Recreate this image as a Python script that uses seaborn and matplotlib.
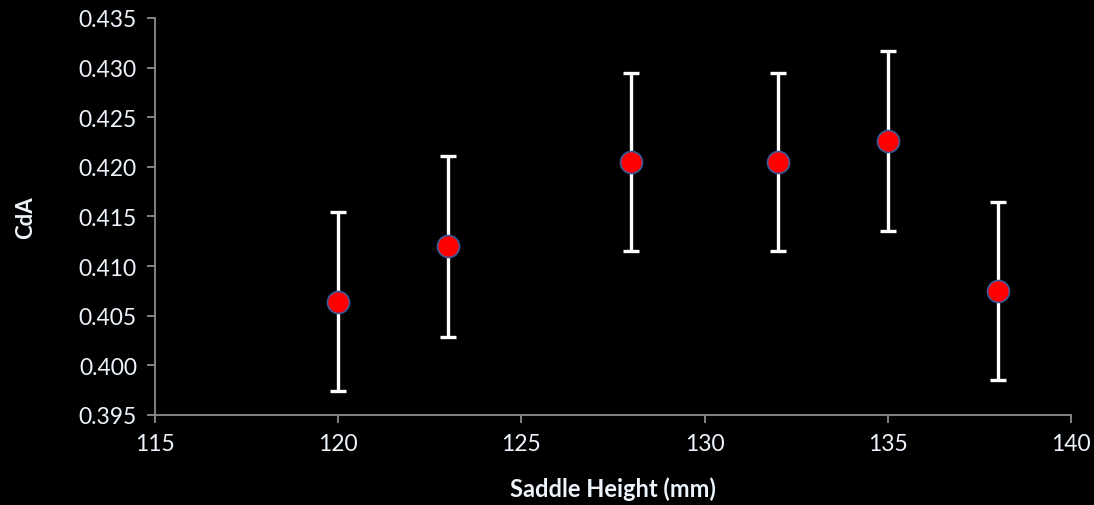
import matplotlib
matplotlib.use("Agg")
import matplotlib.pyplot as plt
import seaborn as sns
import pandas as pd
import numpy as np

saddle_height = [120, 123, 128, 132, 135, 138]
cda = [0.4064, 0.4120, 0.4205, 0.4205, 0.4226, 0.4075]
cda_err = [0.0090, 0.0091, 0.0090, 0.0090, 0.0091, 0.0090]
x_ticks = [115, 120, 125, 130, 135, 140]
y_ticks = [0.395, 0.400, 0.405, 0.410, 0.415, 0.420, 0.425, 0.430, 0.435]

df = pd.DataFrame({"Saddle Height (mm)": saddle_height, "CdA": cda, "err": cda_err})

sns.set_theme(style="ticks")
plt.rcParams['font.family'] = ['Lato', 'DejaVu Sans']
txt = "#eef4fb"

fig = plt.figure(figsize=(10.94, 5.06), dpi=100, facecolor="black")
ax = fig.add_axes([0.1417, 0.178, 0.979 - 0.1417, 0.9625 - 0.178])
ax.set_facecolor("black")

ax.errorbar(df["Saddle Height (mm)"], df["CdA"], yerr=df["err"], fmt="none",
            ecolor="white", elinewidth=2.4, capsize=6, capthick=2.4, zorder=2)
sns.scatterplot(data=df, x="Saddle Height (mm)", y="CdA", ax=ax, s=250,
                color="#ff0000", edgecolor="#3b5a9a", linewidth=1.2, zorder=3)

ax.set_xlim(115, 140)
ax.set_ylim(0.395, 0.435)
ax.set_xticks(x_ticks)
ax.set_yticks(y_ticks)
ax.set_xticklabels([str(t) for t in x_ticks])
ax.set_yticklabels([f"{t:.3f}" for t in y_ticks])

for s in ["top", "right"]:
    ax.spines[s].set_visible(False)
for s in ["left", "bottom"]:
    ax.spines[s].set_color("#8c8c8c")
    ax.spines[s].set_linewidth(1.3)
ax.tick_params(axis="both", colors="#8c8c8c", direction="out", length=6, width=1.3,
               labelcolor=txt, labelsize=16.5, pad=7)

ax.set_xlabel("Saddle Height (mm)", color=txt, fontsize=17, fontweight="bold", labelpad=16)
ax.set_ylabel("CdA", color=txt, fontsize=16, fontweight="bold", labelpad=31)

fig.savefig("out.png", dpi=100, facecolor="black")
